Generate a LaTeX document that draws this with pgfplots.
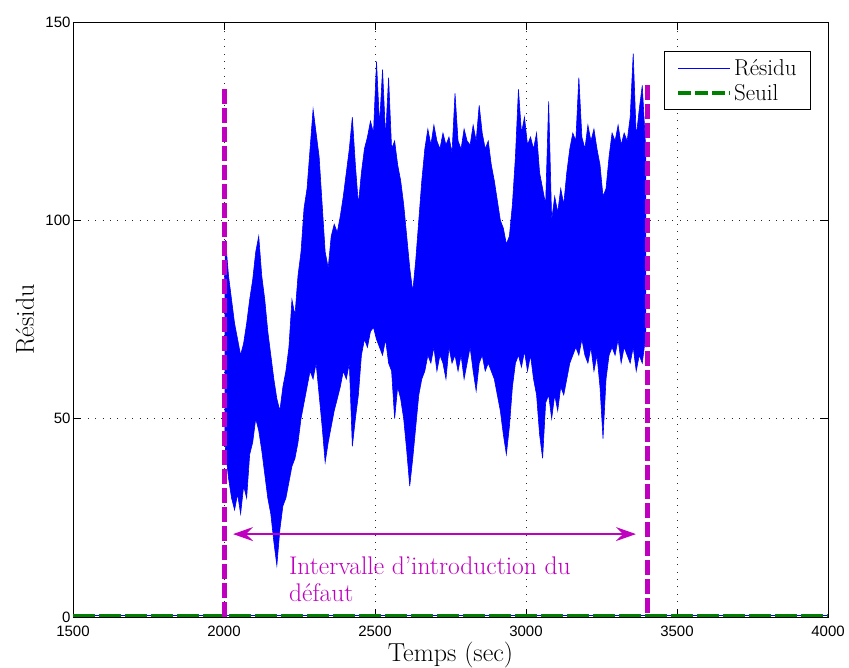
\documentclass[border=0pt]{standalone}
\usepackage{fontspec}
\newfontfamily\ticksf{Liberation Sans}
\usepackage{pgfplots}
\usepackage{pgfplotstable}
\pgfplotsset{compat=1.18}
\usepgfplotslibrary{fillbetween}
\usetikzlibrary{arrows.meta}
\definecolor{mag}{rgb}{0.75,0,0.75}
\definecolor{dgreen}{rgb}{0,0.5,0}
\pgfplotstableread{
x hi lo
2002 85 50
2005 95 42
2015 86 35
2025 80 30
2035 74 27
2045 70 31
2055 66 26
2065 69 33
2075 74 30
2085 80 41
2095 85 44
2105 92 50
2115 96 47
2125 86 42
2135 80 36
2145 72 30
2155 66 26
2165 60 19
2175 55 13
2185 52 22
2195 58 28
2205 62 30
2215 68 34
2225 80 38
2235 76 40
2245 86 44
2255 92 50
2265 103 54
2275 108 58
2285 118 62
2295 128 60
2305 122 64
2315 116 56
2325 104 48
2335 92 39
2345 88 44
2355 96 48
2365 99 52
2375 97 55
2385 101 58
2395 106 62
2405 112 60
2415 118 64
2425 126 43
2435 114 50
2445 104 56
2455 112 66
2465 118 70
2475 121 68
2485 125 72
2495 122 73
2505 140 70
2515 124 68
2525 138 66
2535 121 70
2545 136 64
2555 118 62
2565 120 50
2575 114 58
2585 110 55
2595 104 50
2605 96 42
2615 88 33
2625 82 40
2635 90 48
2645 100 56
2655 110 60
2665 118 62
2675 123 66
2685 119 64
2695 124 68
2705 120 62
2715 118 66
2725 122 64
2735 119 60
2745 121 68
2755 117 64
2765 132 66
2775 120 62
2785 118 66
2795 123 60
2805 120 64
2815 119 68
2825 124 62
2835 120 57
2845 129 64
2855 122 66
2865 118 62
2875 120 64
2885 114 62
2895 110 60
2905 105 56
2915 100 52
2925 98 46
2935 94 41
2945 96 48
2955 104 58
2965 116 64
2975 133 66
2985 122 63
2995 126 67
3005 119 62
3015 121 66
3025 118 60
3035 122 56
3045 112 46
3055 108 40
3065 104 54
3075 130 56
3085 100 50
3095 106 56
3105 102 52
3115 108 58
3125 104 56
3135 112 60
3145 118 64
3155 122 66
3165 120 68
3175 136 66
3185 121 70
3195 118 66
3205 124 64
3215 120 68
3225 123 62
3235 118 66
3245 114 58
3255 106 45
3265 108 60
3275 116 66
3285 122 68
3295 120 66
3305 124 70
3315 119 64
3325 122 68
3335 120 66
3345 126 64
3355 142 68
3365 121 62
3375 128 66
3385 134 64
3395 120 70
3398 118 68
}\residu
\begin{document}
\begin{tikzpicture}
\begin{axis}[
  scale only axis, width=755pt, height=595pt,
  xmin=1500, xmax=4000, ymin=0, ymax=150,
  xtick={1500,2000,2500,3000,3500,4000}, ytick={0,50,100,150},
  grid=major, grid style={black!85, line width=0.7pt, dash pattern=on 0.9pt off 6.5pt},
  tick align=inside, major tick length=8pt,
  axis line style={black, line width=0.8pt},
  tick style={black, line width=0.8pt},
  clip=false,
  /pgf/number format/assume math mode=true,
  /pgf/number format/1000 sep={},
  ticklabel style={font=\ticksf\fontsize{15}{18}\selectfont},
  xticklabel style={yshift=-5pt},
  yticklabel style={xshift=1pt},
  xlabel={Temps (sec)}, ylabel={Résidu},
  label style={font=\fontsize{26}{30}\selectfont},
  xlabel style={at={(axis description cs:0.5,-0.0639)}, anchor=center},
  ylabel style={at={(axis description cs:-0.0636,0.5)}, anchor=center},
  legend style={at={(rel axis cs:0.9775,0.951)}, anchor=north east,
    font=\fontsize{23}{27}\selectfont, draw=black, line width=0.8pt,
    inner xsep=12pt, inner ysep=6pt, row sep=3pt},
  legend cell align=left,
  legend image code/.code={\draw[#1] (0pt,0pt) -- (52pt,0pt);},
]
\coordinate (sw) at (rel axis cs:0,0);
\coordinate (ne) at (rel axis cs:1,1);
\addplot[blue, line width=0.6pt, name path=hi, legend image post style={draw=blue, line width=0.7pt}] table[x=x, y=hi] {\residu};
\addlegendentry{Résidu}
\addplot[blue, line width=0.6pt, name path=lo, forget plot] table[x=x, y=lo] {\residu};
\addplot[blue, forget plot] fill between[of=hi and lo];
\addplot[blue, line width=0.6pt, forget plot] coordinates {(1500,0.4) (4000,0.4)};
\addplot[dgreen, line width=3.5pt, dash pattern=on 22pt off 4pt,
  legend image post style={dash pattern=on 13pt off 4pt}] coordinates {(1500,0.4) (4000,0.4)};
\addlegendentry{Seuil}
\addplot[mag, line width=5pt, dash pattern=on 15pt off 4pt, forget plot] coordinates {(2000,133) (2000,0)};
\addplot[mag, line width=5pt, dash pattern=on 15pt off 4pt, forget plot] coordinates {(3403,134) (3403,0)};
\addplot[mag, line width=2pt, forget plot, arrows={Stealth[length=20pt,width=14pt,inset=7pt]-Stealth[length=20pt,width=14pt,inset=7pt]}] coordinates {(2030,20.9) (3364,20.9)};
\node[mag, anchor=base west, font=\fontsize{25.5}{30}\selectfont, inner sep=0pt] at (axis cs:2215,10.8) {Intervalle d'introduction du};
\node[mag, anchor=base west, font=\fontsize{25.5}{30}\selectfont, inner sep=0pt] at (axis cs:2215,3.9) {défaut};
\end{axis}
\pgfresetboundingbox
\path ([shift={(-73pt,-51pt)}]sw) rectangle ([shift={(21pt,22pt)}]ne);
\end{tikzpicture}
\end{document}
